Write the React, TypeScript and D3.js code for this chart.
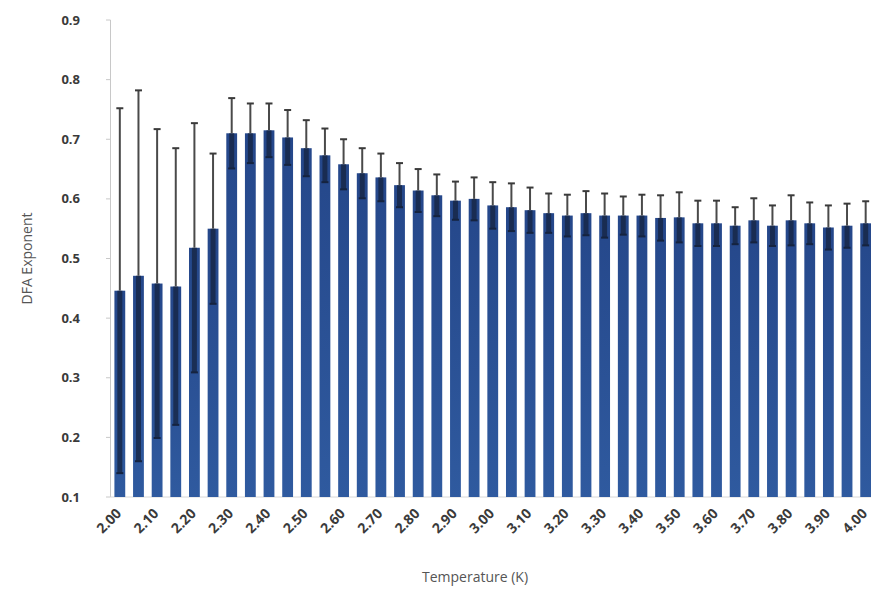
import React from "react";
import * as d3 from "d3";

const temperatures: string[] = [
  "2.00","2.05","2.10","2.15","2.20","2.25","2.30","2.35","2.40","2.45",
  "2.50","2.55","2.60","2.65","2.70","2.75","2.80","2.85","2.90","2.95",
  "3.00","3.05","3.10","3.15","3.20","3.25","3.30","3.35","3.40","3.45",
  "3.50","3.55","3.60","3.65","3.70","3.75","3.80","3.85","3.90","3.95","4.00",
];

const dfaMean: number[] = [
  0.446, 0.471, 0.458, 0.453, 0.518, 0.550, 0.710, 0.710, 0.715, 0.703,
  0.685, 0.673, 0.658, 0.643, 0.636, 0.623, 0.614, 0.606, 0.597, 0.600,
  0.589, 0.586, 0.581, 0.576, 0.572, 0.576, 0.572, 0.572, 0.572, 0.568,
  0.569, 0.559, 0.559, 0.555, 0.564, 0.555, 0.564, 0.559, 0.552, 0.555, 0.559,
];

const dfaErrTop: number[] = [
  0.752, 0.782, 0.717, 0.685, 0.727, 0.676, 0.769, 0.760, 0.760, 0.749,
  0.732, 0.718, 0.700, 0.685, 0.676, 0.660, 0.650, 0.641, 0.629, 0.636,
  0.628, 0.626, 0.619, 0.609, 0.607, 0.613, 0.609, 0.604, 0.607, 0.606,
  0.611, 0.597, 0.597, 0.586, 0.601, 0.589, 0.606, 0.594, 0.589, 0.592, 0.596,
];

const yTicks: number[] = [0.1, 0.2, 0.3, 0.4, 0.5, 0.6, 0.7, 0.8, 0.9];
const xLabelEvery = 2;

const W = 871;
const H = 593;

export default function App() {
  const x = d3
    .scaleBand<string>()
    .domain(temperatures)
    .range([110.5, 875])
    .paddingInner(0.42)
    .paddingOuter(0.21);
  const y = d3.scaleLinear().domain([0.1, 0.9]).range([497, 20]);

  const font = "'Open Sans', 'Liberation Sans', Arial, sans-serif";
  const bw = x.bandwidth();

  return (
    <svg
      width={W}
      height={H}
      style={{ position: "absolute", left: 0, top: 0, background: "#fff" }}
    >
      <defs>
        <linearGradient id="barGrad" x1="0" y1="0" x2="0" y2="1">
          <stop offset="0" stopColor="#25478a" />
          <stop offset="1" stopColor="#2f5a9f" />
        </linearGradient>
      </defs>

      {/* y axis */}
      <line x1={110.5} x2={110.5} y1={y(0.9)} y2={y(0.1)} stroke="#c8c8c8" strokeWidth={1} />
      {yTicks.map((t) => (
        <g key={t}>
          <line x1={106} x2={110.5} y1={y(t)} y2={y(t)} stroke="#c8c8c8" strokeWidth={1} />
          <text
            x={80}
            y={y(t)}
            dy="0.35em"
            textAnchor="end"
            fontFamily={font}
            fontWeight={700}
            fontSize={13}
            fill="#3a3a3a"
          >
            {t.toFixed(1)}
          </text>
        </g>
      ))}
      {/* x baseline */}
      <line x1={110.5} x2={W} y1={y(0.1)} y2={y(0.1)} stroke="#d8d8d8" strokeWidth={1} />

      {/* bars */}
      {temperatures.map((c, i) => (
        <rect
          key={c}
          x={x(c)!}
          y={y(dfaMean[i])}
          width={bw}
          height={y(0.1) - y(dfaMean[i])}
          fill="url(#barGrad)"
        />
      ))}

      {/* error bars */}
      {temperatures.map((c, i) => {
        const cx = x(c)! + bw / 2;
        const err = dfaErrTop[i] - dfaMean[i];
        const lo = Math.max(0.1, dfaMean[i] - err);
        return (
          <g key={"e" + c}>
            <line x1={cx} x2={cx} y1={y(lo)} y2={y(dfaMean[i])} stroke="#15233f" strokeWidth={5} opacity={0.75} />
            <line x1={cx} x2={cx} y1={y(dfaErrTop[i])} y2={y(dfaMean[i])} stroke="#4a4a4a" strokeWidth={2} />
            <line x1={cx - 3.5} x2={cx + 3.5} y1={y(dfaErrTop[i])} y2={y(dfaErrTop[i])} stroke="#3a3a3a" strokeWidth={2} />
            {lo > 0.1 && (
              <line x1={cx - 3.5} x2={cx + 3.5} y1={y(lo)} y2={y(lo)} stroke="#15233f" strokeWidth={2} />
            )}
          </g>
        );
      })}

      {/* x tick labels */}
      {temperatures.map((c, i) =>
        i % xLabelEvery === 0 ? (
          <text
            key={"l" + c}
            transform={`translate(${x(c)! + bw / 2 - 5},${y(0.1) + 10}) rotate(-45)`}
            textAnchor="end"
            dy="0.75em"
            fontFamily={font}
            fontWeight={700}
            fontSize={14}
            fill="#3a3a3a"
          >
            {c}
          </text>
        ) : null
      )}

      {/* axis titles */}
      <text
        x={475}
        y={582}
        textAnchor="middle"
        fontFamily={font}
        fontSize={14}
        fill="#555"
      >
        Temperature (K)
      </text>
      <text
        transform={`translate(32,${y(0.5)}) rotate(-90)`}
        textAnchor="middle"
        fontFamily={font}
        fontSize={14}
        fill="#555"
      >
        DFA Exponent
      </text>
    </svg>
  );
}
